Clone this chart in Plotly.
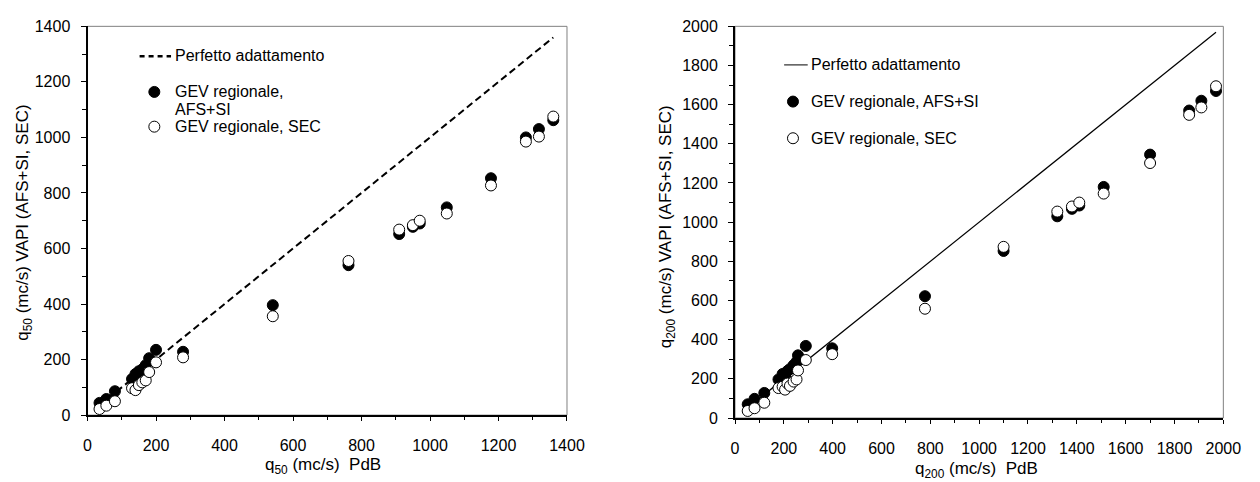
import plotly.graph_objects as go

W, H = 1260, 482
FONT = "Liberation Sans, Arial, sans-serif"

# ---- q50 panel: PdB estimate vs regional GEV (VAPI) estimates, m^3/s ----
q50_pdb = [35, 55, 80, 130, 140, 150, 160, 170, 180, 200, 279, 541, 762,
           910, 950, 970, 1049, 1178, 1280, 1318, 1360]
q50_afs_si = [44, 58, 86, 130, 148, 158, 165, 180, 205, 235, 228, 396, 540,
              652, 678, 690, 748, 853, 1000, 1030, 1062]
q50_sec = [22, 34, 50, 97, 90, 108, 118, 125, 155, 190, 208, 356, 555,
           668, 684, 700, 726, 827, 985, 1003, 1075]

# ---- q200 panel ----
q200_pdb = [52, 80, 120, 178, 195, 205, 215, 225, 240, 252, 258, 290, 398,
            778, 1100, 1320, 1380, 1410, 1510, 1700, 1860, 1910, 1970]
q200_afs_si = [70, 98, 128, 197, 225, 215, 240, 250, 270, 287, 320, 368, 356,
               622, 853, 1030, 1068, 1085, 1180, 1345, 1570, 1620, 1670]
q200_sec = [36, 50, 78, 153, 160, 145, 176, 164, 186, 197, 243, 296, 326,
            558, 874, 1054, 1080, 1100, 1146, 1302, 1548, 1586, 1694]

range_50 = [0, 1400]
range_200 = [0, 2000]

label_fit = "Perfetto adattamento"
label_afs = "GEV regionale, AFS+SI"
label_afs_l1 = "GEV regionale,"
label_afs_l2 = "AFS+SI"
label_sec = "GEV regionale, SEC"


def px_x(p):
    return p / W


def px_y(p):
    return 1 - p / H


fig = go.Figure()

# perfect-fit lines (y = x over the observed range)
fit50 = [min(q50_pdb), max(q50_pdb)]
fig.add_trace(go.Scatter(x=fit50, y=fit50, mode="lines", xaxis="x", yaxis="y",
                         line=dict(color="black", width=2, dash="7px,4px"),
                         name=label_fit, showlegend=False, hoverinfo="skip"))
fit200 = [min(q200_pdb), max(q200_pdb)]
fig.add_trace(go.Scatter(x=fit200, y=fit200, mode="lines", xaxis="x2", yaxis="y2",
                         line=dict(color="black", width=1.2),
                         name=label_fit, showlegend=False, hoverinfo="skip"))

filled = dict(size=11, color="black", line=dict(color="black", width=1))
hollow = dict(size=11, color="white", line=dict(color="black", width=1))

for xs, afs, sec, xa, ya in [(q50_pdb, q50_afs_si, q50_sec, "x", "y"),
                             (q200_pdb, q200_afs_si, q200_sec, "x2", "y2")]:
    fig.add_trace(go.Scatter(x=xs, y=afs, mode="markers", xaxis=xa, yaxis=ya,
                             marker=filled, name=label_afs, showlegend=False,
                             cliponaxis=False))
    fig.add_trace(go.Scatter(x=xs, y=sec, mode="markers", xaxis=xa, yaxis=ya,
                             marker=hollow, name=label_sec, showlegend=False,
                             cliponaxis=False))

tickfont = dict(family=FONT, size=16, color="black")


def x_axis(domain, rng, anchor):
    return dict(domain=domain, range=rng, anchor=anchor, dtick=200, tick0=0,
                showgrid=False, zeroline=False, showline=True, linecolor="black",
                linewidth=2, ticks="outside", ticklen=4, tickwidth=1,
                tickcolor="black", tickfont=tickfont, ticklabelstandoff=11,
                minor=dict(dtick=100, ticks="outside", ticklen=3, tickwidth=1,
                           tickcolor="black", showgrid=False))


def x_inner(over, rng, anchor):
    # upper half of the crossing major ticks
    return dict(overlaying=over, range=rng, anchor=anchor, dtick=200, tick0=0,
                showgrid=False, zeroline=False, showline=False,
                ticks="inside", ticklen=5, tickwidth=1, tickcolor="black",
                showticklabels=False)


def y_axis(domain, rng, anchor):
    return dict(domain=domain, range=rng, anchor=anchor, dtick=200, tick0=0,
                showgrid=False, zeroline=False, showline=True, linecolor="black",
                linewidth=2, ticks="outside", ticklen=5, tickwidth=1,
                tickcolor="black", tickfont=tickfont, ticklabelstandoff=7,
                minor=dict(dtick=100, ticks="outside", ticklen=4, tickwidth=1,
                           tickcolor="black", showgrid=False))


dom_x1 = [px_x(85), px_x(573)]
dom_y1 = [px_y(422), px_y(19)]
dom_x2 = [px_x(744), px_x(1241)]
dom_y2 = [px_y(425), px_y(19)]

shapes = [
    # plot-area frames
    dict(type="rect", xref="paper", yref="paper", x0=dom_x1[0], x1=dom_x1[1],
         y0=dom_y1[0], y1=dom_y1[1], line=dict(color="#808080", width=1), layer="below"),
    dict(type="rect", xref="paper", yref="paper", x0=dom_x2[0], x1=dom_x2[1],
         y0=dom_y2[0], y1=dom_y2[1], line=dict(color="#808080", width=1), layer="below"),
    # legend keys, left panel
    dict(type="line", xref="paper", yref="paper", x0=px_x(138), x1=px_x(170),
         y0=px_y(50), y1=px_y(50), line=dict(color="black", width=2.5, dash="5px,4px")),
    dict(type="circle", xref="paper", yref="paper", xsizemode="pixel", ysizemode="pixel",
         xanchor=px_x(153), yanchor=px_y(87), x0=-5.5, x1=5.5, y0=-5.5, y1=5.5,
         fillcolor="black", line=dict(color="black", width=1)),
    dict(type="circle", xref="paper", yref="paper", xsizemode="pixel", ysizemode="pixel",
         xanchor=px_x(153), yanchor=px_y(123), x0=-5.5, x1=5.5, y0=-5.5, y1=5.5,
         fillcolor="white", line=dict(color="black", width=1)),
    # legend keys, right panel
    dict(type="line", xref="paper", yref="paper", x0=px_x(794), x1=px_x(818),
         y0=px_y(59), y1=px_y(59), line=dict(color="black", width=1)),
    dict(type="circle", xref="paper", yref="paper", xsizemode="pixel", ysizemode="pixel",
         xanchor=px_x(803), yanchor=px_y(97), x0=-5.5, x1=5.5, y0=-5.5, y1=5.5,
         fillcolor="black", line=dict(color="black", width=1)),
    dict(type="circle", xref="paper", yref="paper", xsizemode="pixel", ysizemode="pixel",
         xanchor=px_x(803), yanchor=px_y(135), x0=-5.5, x1=5.5, y0=-5.5, y1=5.5,
         fillcolor="white", line=dict(color="black", width=1)),
]

legfont = dict(family=FONT, size=16, color="black")
titlefont = dict(family=FONT, size=17, color="black")
ytitlefont = dict(family=FONT, size=17, color="black")


def text(x, y, s, font, xanchor="left", angle=0):
    return dict(xref="paper", yref="paper", x=px_x(x), y=px_y(y), text=s,
                showarrow=False, xanchor=xanchor, yanchor="middle",
                font=font, textangle=angle)


annotations = [
    text(172, 49, label_fit, legfont),
    text(172, 87, label_afs_l1, legfont),
    text(172, 105, label_afs_l2, legfont),
    text(172, 123, label_sec, legfont),
    text(819, 59, label_fit, legfont),
    text(819, 97, label_afs, legfont),
    text(819, 135, label_sec, legfont),
    text(325, 475, "q<sub>50</sub> (mc/s)&nbsp; PdB", titlefont, xanchor="center"),
    text(990, 479, "q<sub>200</sub> (mc/s)&nbsp; PdB", titlefont, xanchor="center"),
    text(21, 223, "q<sub>50</sub> (mc/s) VAPI (AFS+SI, SEC)", ytitlefont,
         xanchor="center", angle=-90),
    text(675, 227, "q<sub>200</sub> (mc/s) VAPI (AFS+SI, SEC)", ytitlefont,
         xanchor="center", angle=-90),
]

fig.update_layout(
    width=W, height=H,
    margin=dict(l=0, r=0, t=0, b=0),
    paper_bgcolor="white", plot_bgcolor="white",
    showlegend=False,
    font=dict(family=FONT, color="black"),
    xaxis=x_axis(dom_x1, range_50, "y"),
    yaxis=y_axis(dom_y1, range_50, "x"),
    xaxis2=x_axis(dom_x2, range_200, "y2"),
    yaxis2=y_axis(dom_y2, range_200, "x2"),
    xaxis3=x_inner("x", range_50, "y"),
    xaxis4=x_inner("x2", range_200, "y2"),
    shapes=shapes,
    annotations=annotations,
)

fig.write_html("out.html")
